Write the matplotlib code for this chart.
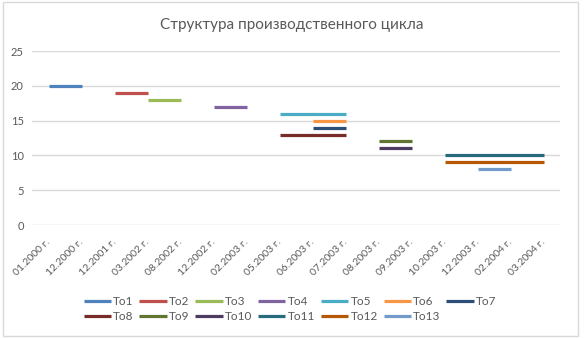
import numpy as np
import matplotlib.pyplot as plt
from matplotlib.patches import Rectangle

plt.rcParams['font.family'] = ['Lato', 'Noto Sans', 'DejaVu Sans']

months = ["01.2000 г.", "12.2000 г.", "12.2001 г.", "03.2002 г.", "08.2002 г.",
          "12.2002 г.", "02.2003 г.", "05.2003 г.", "06.2003 г.", "07.2003 г.",
          "08.2003 г.", "09.2003 г.", "10.2003 г.", "12.2003 г.", "02.2004 г.",
          "03.2004 г."]

names = ["To1", "To2", "To3", "To4", "To5", "To6", "To7",
         "To8", "To9", "To10", "To11", "To12", "To13"]
levels = [20, 19, 18, 17, 16, 15, 14, 13, 12, 11, 10, 9, 8]
start = ["01.2000 г.", "12.2001 г.", "03.2002 г.", "12.2002 г.", "05.2003 г.",
         "06.2003 г.", "06.2003 г.", "05.2003 г.", "08.2003 г.", "08.2003 г.",
         "10.2003 г.", "10.2003 г.", "12.2003 г."]
finish = ["12.2000 г.", "03.2002 г.", "08.2002 г.", "02.2003 г.", "07.2003 г.",
          "07.2003 г.", "07.2003 г.", "07.2003 г.", "09.2003 г.", "09.2003 г.",
          "03.2004 г.", "03.2004 г.", "02.2004 г."]

colors = ["#4F81BD", "#C0504D", "#9BBB59", "#8064A2", "#4BACC6", "#F79646",
          "#2C4D75", "#772C2A", "#5F7530", "#4D3B62", "#276A7C", "#B65708",
          "#729ACA"]

fig = plt.figure(figsize=(5.85, 3.38), dpi=100)
ax = fig.add_axes([32 / 585, 1 - 225 / 338, 528 / 585, 174 / 338])

x = np.arange(len(months))
handles = []
for name, lvl, s, f, c in zip(names, levels, start, finish, colors):
    y = np.full(len(months), np.nan)
    y[months.index(s):months.index(f) + 1] = lvl
    h, = ax.plot(x, y, color=c, lw=2.3, solid_capstyle='butt', label=name)
    handles.append(h)

ax.set_xlim(-0.5, len(months) - 0.5)
ax.set_ylim(0, 25)
ax.set_yticks(range(0, 26, 5))
ax.set_xticks(x)
ax.set_xticklabels(months, rotation=45, ha='right', va='center',
                   rotation_mode='anchor')
ax.tick_params(length=0, labelsize=8, labelcolor='#595959', pad=6)
ax.tick_params(axis='x', labelsize=7.5, pad=11)
ax.grid(axis='y', color='#D9D9D9', lw=1)
ax.set_axisbelow(True)
for sp in ax.spines.values():
    sp.set_visible(False)

fig.text(292 / 585, 1 - 25 / 338, "Структура производственного цикла",
         ha='center', va='center', fontsize=11, color='#595959')

# legend fills column by column, so interleave to get rows To1-To7 / To8-To13
order = []
for k in range(7):
    order.append(k)
    if k + 7 < len(handles):
        order.append(k + 7)
fig.legend([handles[i] for i in order], [names[i] for i in order],
           loc='center', bbox_to_anchor=(290 / 585, 1 - 309 / 338), ncol=7,
           frameon=False, fontsize=8.5, labelcolor='#595959', handlelength=2.3,
           handletextpad=0.2, columnspacing=0.5, labelspacing=0.35)

fig.patches.append(Rectangle((3 / 585, 2 / 338), 575 / 585, 334 / 338,
                             transform=fig.transFigure, fill=False,
                             ec='#D9D9D9', lw=1))

fig.savefig("out.png", dpi=100)
